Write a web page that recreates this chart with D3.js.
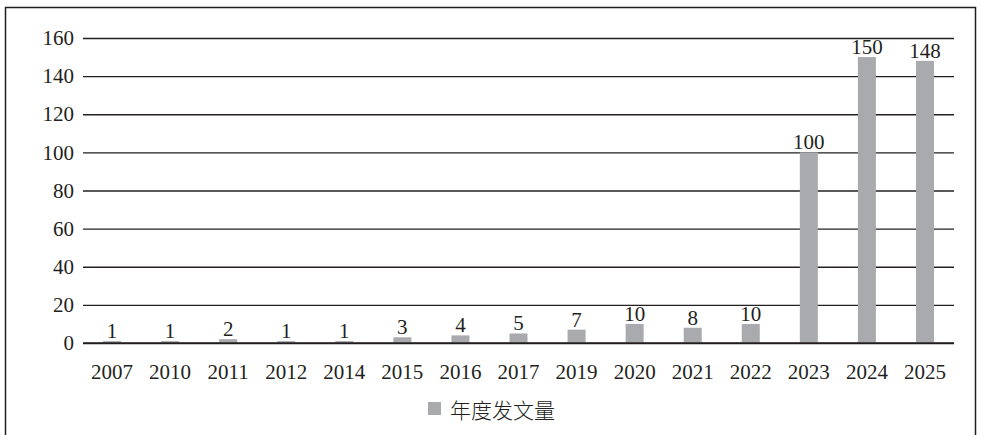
<!DOCTYPE html>
<html><head><meta charset="utf-8">
<script src="https://cdn.jsdelivr.net/npm/d3@7"></script>
<style>body{margin:0;background:#fff}svg{display:block}</style>
</head><body>
<script>
const categories = ["2007","2010","2011","2012","2014","2015","2016","2017","2019","2020","2021","2022","2023","2024","2025"];
const values = [1,1,2,1,1,3,4,5,7,10,8,10,100,150,148];
const yTicks = [0,20,40,60,80,100,120,140,160];
const seriesName = "年度发文量";

const W = 981, H = 435;
const svg = d3.select("body").append("svg").attr("width", W).attr("height", H);
svg.append("rect").attr("x",5.5).attr("y",7.5).attr("width",970).attr("height",440)
  .attr("fill","none").attr("stroke","#231f20").attr("stroke-width",1.5);

const x = d3.scaleBand().domain(categories).range([83,954]).paddingInner(0.69).paddingOuter(0.345);
const y = d3.scaleLinear().domain([0,160]).range([343,38]);
const textColor = "#231f20";
const font = "'Liberation Serif','Times New Roman',serif";
const fs = "21px";

const yAxis = svg.append("g").attr("transform","translate(83,0)")
  .call(d3.axisLeft(y).tickValues(yTicks).tickSize(-871).tickPadding(9).tickFormat(d3.format("d")));
yAxis.select(".domain").remove();
yAxis.selectAll(".tick line").attr("stroke","#231f20").attr("stroke-width",1.4);
yAxis.selectAll(".tick text").attr("fill",textColor).style("font-family",font).style("font-size",fs);

svg.append("g").selectAll("rect").data(values).join("rect")
  .attr("x",(d,i)=>x(categories[i])).attr("width",x.bandwidth())
  .attr("y",d=>y(d)).attr("height",d=>y(0)-y(d)).attr("fill","#a9aaae");

svg.append("line").attr("x1",83).attr("x2",954).attr("y1",y(0)).attr("y2",y(0)).attr("stroke","#231f20").attr("stroke-width",1.4);

svg.append("g").selectAll("text").data(values).join("text")
  .attr("x",(d,i)=>x(categories[i])+x.bandwidth()/2).attr("y",d=>y(d)-3)
  .attr("text-anchor","middle").attr("fill",textColor)
  .style("font-family",font).style("font-size",fs).text(d=>d);

const xAxis = svg.append("g").attr("transform",`translate(0,${y(0)})`)
  .call(d3.axisBottom(x).tickSize(0).tickPadding(21));
xAxis.select(".domain").remove();
xAxis.selectAll(".tick text").attr("fill",textColor).style("font-family",font).style("font-size",fs);

const leg = svg.append("g");
leg.append("rect").attr("x",428).attr("y",402).attr("width",13).attr("height",13).attr("fill","#a9aaae");
leg.append("text").attr("x",450).attr("y",409).attr("dominant-baseline","central")
  .attr("fill",textColor).style("font-family","'Noto Sans CJK SC',sans-serif").style("font-size","21px")
  .style("font-weight","300").text(seriesName);
</script>
</body></html>
